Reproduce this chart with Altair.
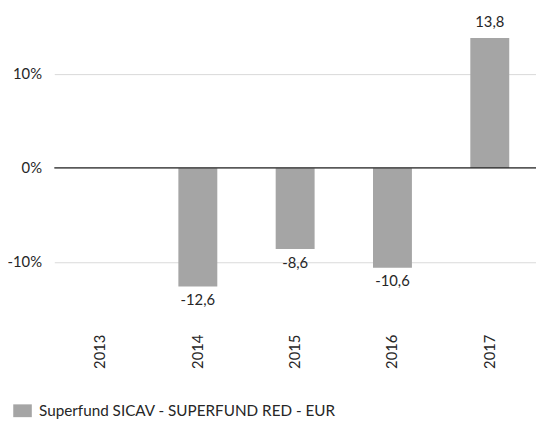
import altair as alt
import pandas as pd

years = ["2013", "2014", "2015", "2016", "2017"]
values = [None, -12.6, -8.6, -10.6, 13.8]
labels = ["", "-12,6", "-8,6", "-10,6", "13,8"]
series = "Superfund SICAV - SUPERFUND RED - EUR"

df = pd.DataFrame({"year": years, "value": values, "label": labels, "series": [series] * 5})

FONT = "Lato"
FS = 15
TXT = "#262626"
x = alt.X("year:N", sort=years,
          scale=alt.Scale(domain=years, paddingInner=0.6, paddingOuter=0.275),
          axis=alt.Axis(title=None, labelAngle=270, labelAlign="right", labelBaseline="middle",
                        labelPadding=35, ticks=False, domain=False, labelFontSize=FS,
                        labelFont=FONT, labelColor=TXT))
y = alt.Y("value:Q", scale=alt.Scale(domain=[-14, 15], nice=False),
          axis=alt.Axis(title=None, values=[-10, 0, 10], labelExpr="datum.value + '%'",
                        ticks=False, domain=False, grid=True, gridColor="#D9D9D9",
                        labelFontSize=FS, labelFont=FONT, labelColor=TXT, labelPadding=13))

base = alt.Chart(df)
bars = base.mark_bar(clip=False).encode(
    x=x, y=y,
    color=alt.Color("series:N", scale=alt.Scale(range=["#A5A5A5"]),
                    legend=alt.Legend(title=None, orient="none", legendX=-40, legendY=382,
                                      symbolType="M-1.45,-1H1.45V1H-1.45Z", symbolSize=169,
                                      symbolStrokeWidth=0,
                                      labelFontSize=15.5, labelFont=FONT, labelColor=TXT,
                                      labelOffset=9, padding=0, labelLimit=0))
).transform_filter("isValid(datum.value)")

zero = alt.Chart(pd.DataFrame({"z": [0]})).mark_rule(color="#262626", strokeWidth=1.2).encode(y=alt.Y("z:Q"))

pos = base.mark_text(baseline="middle", dy=-16, fontSize=FS, font=FONT, color=TXT).encode(
    x=x, y=y, text="label:N").transform_filter("datum.value > 0")
neg = base.mark_text(baseline="middle", dy=14, fontSize=FS, font=FONT, color=TXT).encode(
    x=x, y=y, text="label:N").transform_filter("datum.value < 0")

chart = alt.layer(bars, zero, pos, neg).properties(
    width=489, height=277,
    autosize=alt.AutoSizeParams(type="none"),
    padding={"left": 47, "top": 16, "right": 0, "bottom": 118},
    background="white",
).configure_view(stroke=None)

chart.save("out.html", embed_options={"renderer": "svg", "actions": False})
